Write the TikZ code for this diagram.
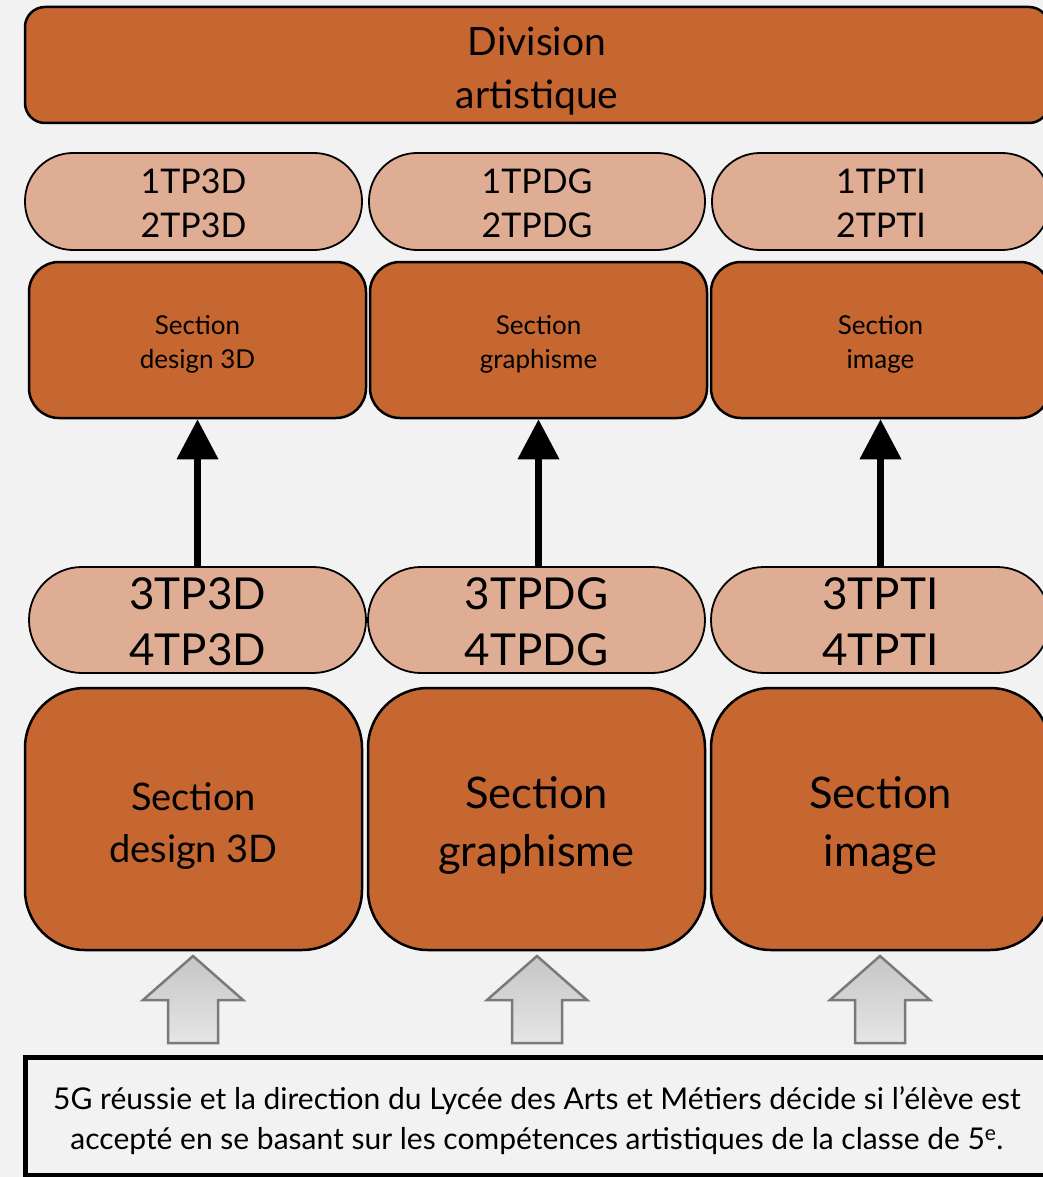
\documentclass[tikz,border=0pt]{standalone}
\usepackage{fontspec}
\setmainfont{Lato}
\usetikzlibrary{arrows.meta,calc}
\definecolor{bg}{HTML}{F2F2F2}
\definecolor{dark}{HTML}{C66631}
\definecolor{light}{HTML}{DFAD93}
\definecolor{arrowdraw}{HTML}{7A7A7A}
\tikzset{
  box/.style={draw=black, line width=2.5pt, fill=dark, inner sep=0pt},
  pill/.style={draw=black, line width=1.8pt, fill=light, inner sep=0pt},
  txt/.style={align=center, text=black, inner sep=0pt},
  up/.style={line width=7pt, -{Triangle[length=40pt,width=40pt]}},
  blockarrow/.style={draw=arrowdraw, line width=2.5pt, line join=miter,
    top color=gray!45!white, bottom color=gray!20!white}
}
\newcommand{\blockarrowat}[1]{%
  \path[blockarrow] ($(#1)+(0,-43.5)$) -- ++(50,44) -- ++(-25,0) -- ++(0,43) -- ++(-50,0)
    -- ++(0,-43) -- ++(-25,0) -- cycle;}
\begin{document}
\begin{tikzpicture}[x=1pt,y=-1pt]
\useasboundingbox (0,0) rectangle (1043,1177);
\clip (0,0) rectangle (1043,1177);
\fill[bg] (0,0) rectangle (1043,1177);

\node[box, rounded corners=20pt, minimum width=1024pt, minimum height=116pt] (top) at (537,65) {};
\node[txt, font=\fontsize{39}{53}\selectfont] (top-t) at ($(top)+(0,6)$) {Division\\artistique};

% row 2
\node[pill, rounded corners=48pt, minimum width=337pt, minimum height=97pt] (p1) at (193.5,201.5) {};
\node[pill, rounded corners=48pt, minimum width=336pt, minimum height=97pt] (p2) at (537,201.5) {};
\node[pill, rounded corners=48pt, minimum width=338pt, minimum height=97pt] (p3) at (881,201.5) {};
\node[txt, font=\fontsize{34}{44}\selectfont] (p1-t) at ($(p1)+(0,2)$) {1TP3D\\2TP3D};
\node[txt, font=\fontsize{34}{44}\selectfont] (p2-t) at ($(p2)+(0,2)$) {1TPDG\\2TPDG};
\node[txt, font=\fontsize{34}{44}\selectfont] (p3-t) at ($(p3)+(0,2)$) {1TPTI\\2TPTI};

% row 3
\node[box, rounded corners=30pt, minimum width=337pt, minimum height=156pt] (s1) at (197.5,340) {};
\node[box, rounded corners=30pt, minimum width=337pt, minimum height=156pt] (s2) at (538.5,340) {};
\node[box, rounded corners=30pt, minimum width=339pt, minimum height=156pt] (s3) at (880.5,340) {};
\node[txt, font=\fontsize{26}{34}\selectfont] (s1-t) at ($(s1)+(0,4.5)$) {Section\\design 3D};
\node[txt, font=\fontsize{26}{34}\selectfont] (s2-t) at ($(s2)+(0,4.5)$) {Section\\graphisme};
\node[txt, font=\fontsize{26}{34}\selectfont] (s3-t) at ($(s3)+(0,4.5)$) {Section\\image};

% row 4
\node[pill, rounded corners=53pt, minimum width=337pt, minimum height=106pt] (q1) at (197.5,620) {};
\node[pill, rounded corners=53pt, minimum width=337pt, minimum height=106pt] (q2) at (536.5,620) {};
\node[pill, rounded corners=53pt, minimum width=339pt, minimum height=106pt] (q3) at (880.5,620) {};
\node[txt, font=\fontsize{44}{56}\selectfont] (q1-t) at ($(q1)+(0,2)$) {3TP3D\\4TP3D};
\node[txt, font=\fontsize{44}{56}\selectfont] (q2-t) at ($(q2)+(0,2)$) {3TPDG\\4TPDG};
\node[txt, font=\fontsize{44}{56}\selectfont] (q3-t) at ($(q3)+(0,2)$) {3TPTI\\4TPTI};

% row 5
\node[box, rounded corners=60pt, minimum width=337pt, minimum height=262pt] (b1) at (193.5,819) {};
\node[box, rounded corners=60pt, minimum width=337pt, minimum height=262pt] (b2) at (536.5,819) {};
\node[box, rounded corners=60pt, minimum width=339pt, minimum height=262pt] (b3) at (880.5,819) {};
\node[txt, font=\fontsize{38}{52}\selectfont] (b1-t) at ($(b1)+(0,7)$) {Section\\design 3D};
\node[txt, font=\fontsize{43.5}{58}\selectfont] (b2-t) at ($(b2)+(0,7)$) {Section\\graphisme};
\node[txt, font=\fontsize{43.5}{58}\selectfont] (b3-t) at ($(b3)+(0,7)$) {Section\\image};

% black arrows
\draw[up] (q1.north -| s1) -- (s1.south);
\draw[up] (q2.north -| s2) -- (s2.south);
\draw[up] (q3.north -| s3) -- (s3.south);

% grey block arrows
\coordinate (g1) at (193,999.5);
\coordinate (g2) at (537,999.5);
\coordinate (g3) at (880,999.5);
\blockarrowat{g1}
\blockarrowat{g2}
\blockarrowat{g3}

% bottom box
\node[draw=black, line width=5pt, fill=bg, minimum width=1024pt, minimum height=118pt,
  inner sep=0pt] (note) at (537,1116) {};
\node[txt, font=\fontsize{30}{40}\selectfont] (note-t) at ($(note)+(0,5)$)
  {5G réussie et la direction du Lycée des Arts et Métiers décide si l’élève est\\
   accepté en se basant sur les compétences artistiques de la classe de 5\textsuperscript{e}.};
\end{tikzpicture}
\end{document}
